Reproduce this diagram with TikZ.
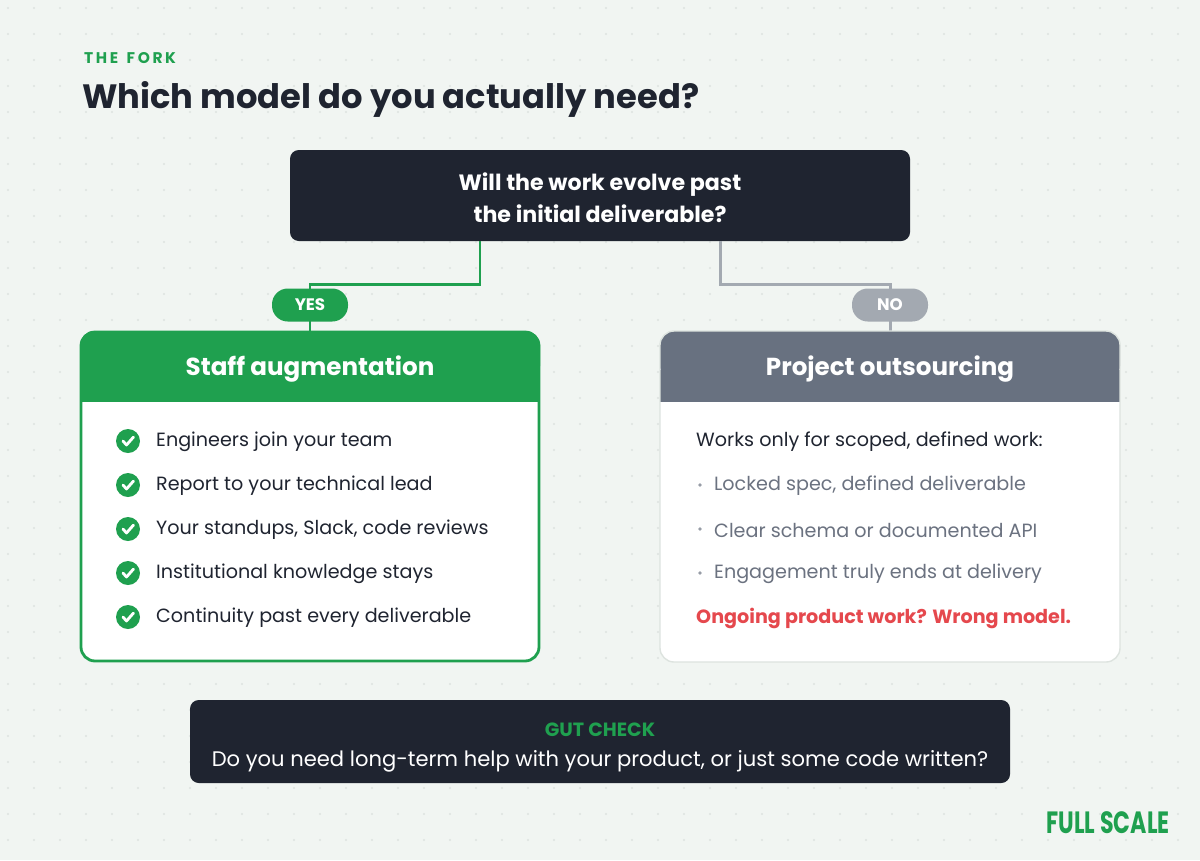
\documentclass[tikz,border=0pt]{standalone}
\usepackage{fontspec}
\setmainfont{Poppins}
\usetikzlibrary{positioning, calc}
\definecolor{inkdark}{HTML}{1F2430}
\definecolor{forkgreen}{HTML}{1FA04F}
\definecolor{nogray}{HTML}{687180}
\definecolor{linegray}{HTML}{A3A9B1}
\definecolor{softgray}{HTML}{6B7280}
\definecolor{warnred}{HTML}{E5484D}
\definecolor{bgtint}{HTML}{F1F5F2}
\definecolor{dotgray}{HTML}{DDE3DF}
\begin{document}
\begin{tikzpicture}[x=0.02cm, y=-0.02cm,
  darkbox/.style={fill=inkdark, rounded corners=5pt, draw=none},
  pill/.style={rounded corners=9pt, minimum width=76*0.02cm, minimum height=33*0.02cm, inner sep=0pt, text=white, font=\fontsize{9.5}{11}\selectfont\bfseries},
  headtext/.style={text=white, font=\fontsize{14}{16}\selectfont\bfseries},
  item/.style={anchor=west, text=inkdark, font=\fontsize{10.9}{13}\selectfont},
  bullet/.style={anchor=west, text=softgray, font=\fontsize{10.9}{13}\selectfont},
  check/.style={circle, fill=forkgreen, minimum size=24*0.02cm, inner sep=0pt}]

  % ===== Background =====
  \useasboundingbox (0,0) rectangle (1200,860);
  \clip (0,0) rectangle (1200,860);
  \fill[bgtint] (0,0) rectangle (1200,860);
  \foreach \i in {0,...,46}
    \foreach \j in {0,...,33}
      \fill[dotgray] (\i*26+8, \j*26+8) circle (1.2);

  % ===== Heading =====
  \node[anchor=west, text=forkgreen, font=\fontsize{8.8}{10}\selectfont\bfseries] (kicker) at (78,58) {T\,H\,E\;\;F\,O\,R\,K};
  \node[anchor=west, text=inkdark, font=\fontsize{19.2}{24}\selectfont\bfseries] (title) at (76,99) {Which model do you actually need?};

  % ===== Question =====
  \fill[darkbox] (290,150) rectangle (910,241);
  \node[text=white, align=center, font=\fontsize{12.6}{18}\selectfont\bfseries] (question) at (600,198) {Will the work evolve past\\the initial deliverable?};
  \coordinate (qyes) at (480,241);
  \coordinate (qno) at (720,241);

  % Connectors
  \draw[forkgreen, line width=1.7pt] (qyes) |- (310,284) -- (310,331);
  \draw[linegray, line width=1.7pt] (qno) |- (890,284) -- (890,331);

  % Pills
  \node[pill, fill=forkgreen] (yes) at (310,305) {YES};
  \node[pill, fill=linegray] (no) at (890,305) {NO};

  % ===== Staff augmentation (left) =====
  \fill[white, rounded corners=8pt] (80,331) rectangle (540,662);
  \fill[forkgreen, rounded corners=8pt] (80,331) rectangle (540,380);
  \fill[forkgreen] (80,370) rectangle (540,402);
  \draw[forkgreen, line width=1.6pt, rounded corners=8pt] (81,332) rectangle (539,661);
  \node[headtext] (stafftitle) at (310,369) {Staff augmentation};

  \foreach \y/\txt [count=\k] in {441/Engineers join your team, 485/Report to your technical lead, 529/{Your standups, Slack, code reviews}, 573/Institutional knowledge stays, 617/Continuity past every deliverable} {
    \node[check] (chk\k) at (128,\y) {};
    \draw[white, line width=1.6pt, line cap=round, line join=round] ($(chk\k)+(-5,0)$) -- ($(chk\k)+(-1.5,4)$) -- ($(chk\k)+(5.5,-4)$);
    \node[item] (staff\k) at (150,\y+1) {\txt};
  }

  % ===== Project outsourcing (right) =====
  \fill[white, rounded corners=8pt] (660,331) rectangle (1120,662);
  \fill[nogray, rounded corners=8pt] (660,331) rectangle (1120,380);
  \fill[nogray] (660,370) rectangle (1120,402);
  \draw[dotgray, line width=0.8pt, rounded corners=8pt] (660,331) rectangle (1120,662);
  \node[headtext] (projtitle) at (890,369) {Project outsourcing};

  \node[item] (scope) at (690,442) {Works only for scoped, defined work:};
  \foreach \y/\txt [count=\k] in {485/{Locked spec, defined deliverable}, 529/Clear schema or documented API, 573/Engagement truly ends at delivery} {
    \fill[softgray!70] (700,\y) circle (1.8);
    \node[bullet] (proj\k) at (708,\y+1) {\txt};
  }
  \node[anchor=west, text=warnred, font=\fontsize{10.9}{13}\selectfont\bfseries] (warning) at (690,618) {Ongoing product work? Wrong model.};

  % ===== Gut check =====
  \fill[darkbox] (190,700) rectangle (1010,783);
  \node[text=forkgreen, font=\fontsize{10.9}{13}\selectfont\bfseries] (gut) at (600,730) {GUT CHECK};
  \node[text=white, font=\fontsize{12}{14}\selectfont] (gutq) at (600,761) {Do you need long-term help with your product, or just some code written?};

  % Logo
  \node[anchor=east, text=forkgreen, xscale=0.72, font=\fontsize{17.5}{20}\selectfont\bfseries] (logo) at (1174,823) {FULL SCALE};
\end{tikzpicture}
\end{document}
